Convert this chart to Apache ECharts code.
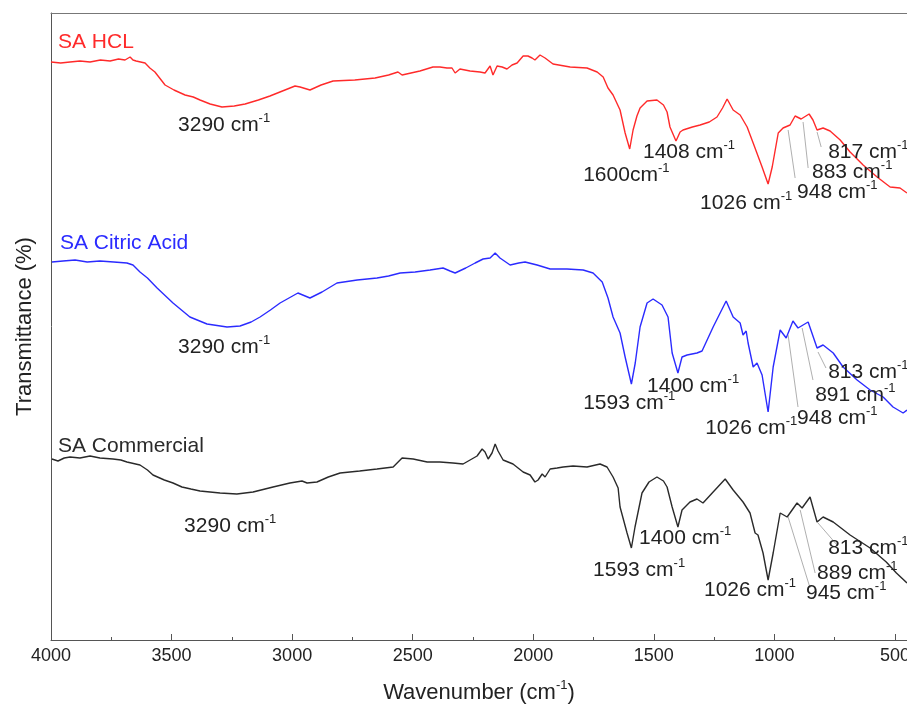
<!DOCTYPE html>
<html>
<head>
<meta charset="utf-8">
<script src="https://cdn.jsdelivr.net/npm/echarts@6/dist/echarts.min.js"></script>
<style>
html, body { margin: 0; padding: 0; background: #fff; }
#chart { width: 907px; height: 704px; }
</style>
</head>
<body>
<div id="chart"></div>
<script>
// wavenumber ticks
const majorTicks = [4000, 3500, 3000, 2500, 2000, 1500, 1000, 500];
const minorTicks = [3750, 3250, 2750, 2250, 1750, 1250, 750];

// spectra: [wavenumber (cm-1), transmittance (offset, a.u.)]
const hclData = [
  [4000, 578], [3960, 577], [3921, 578], [3880, 579], [3838, 578], [3795, 580], [3755, 579], [3720, 581],
  [3693, 580], [3672, 583], [3660, 580], [3647, 579], [3610, 577], [3590, 572], [3569, 568], [3527, 555],
  [3490, 550], [3444, 545], [3410, 543], [3382, 540], [3340, 536], [3291, 533], [3240, 534], [3195, 536],
  [3140, 540], [3092, 544], [3040, 549], [2988, 554], [2967, 553], [2926, 550], [2880, 555], [2830, 559],
  [2740, 560], [2656, 562], [2600, 565], [2561, 568], [2544, 565], [2470, 569], [2416, 573], [2387, 573],
  [2358, 572], [2337, 572], [2324, 567], [2304, 571], [2262, 569], [2221, 568], [2200, 567], [2179, 574],
  [2167, 565], [2150, 574], [2129, 573], [2109, 571], [2088, 575], [2067, 577], [2042, 584], [2022, 584],
  [2005, 582], [1993, 580], [1972, 585], [1951, 582], [1918, 576], [1847, 573], [1777, 572], [1735, 568],
  [1710, 563], [1690, 552], [1669, 545], [1640, 530], [1619, 507],
  [1600, 491], [1586, 510], [1570, 524], [1557, 532], [1528, 539], [1487, 540], [1460, 535], [1445, 528],
  [1433, 513], [1408, 499], [1391, 508], [1379, 510], [1340, 513], [1308, 515], [1270, 518], [1238, 523],
  [1215, 532], [1196, 541], [1171, 530], [1142, 525], [1113, 513], [1088, 497], [1051, 473], [1026, 456],
  [1009, 473], [984, 507], [964, 512], [935, 515], [914, 524], [889, 521], [856, 526], [840, 520],
  [823, 510], [798, 512], [769, 509], [727, 500], [686, 488], [632, 475], [574, 463], [520, 453],
  [479, 452], [450, 447]
];

const citricData = [
  [3996, 378], [3950, 379], [3900, 380], [3850, 378], [3797, 379], [3740, 378], [3685, 377], [3660, 375],
  [3631, 368], [3600, 362], [3560, 352], [3494, 337], [3424, 323], [3353, 316], [3270, 313], [3216, 314],
  [3170, 318], [3133, 323], [3090, 330], [3050, 337], [2976, 347], [2926, 342], [2876, 348], [2814, 357],
  [2730, 360], [2648, 362], [2600, 364], [2552, 367], [2490, 368], [2428, 370], [2374, 372], [2345, 369],
  [2324, 367], [2280, 372], [2241, 377], [2208, 381], [2179, 382], [2158, 387], [2138, 382], [2096, 375],
  [2060, 377], [2034, 378], [1984, 375], [1930, 371], [1860, 371], [1793, 370], [1752, 367], [1714, 358],
  [1690, 342], [1669, 323], [1640, 307], [1619, 283], [1593, 256], [1577, 277], [1557, 313], [1528, 337],
  [1503, 341], [1466, 335], [1441, 323], [1424, 287], [1400, 267], [1383, 283], [1362, 285], [1321, 287],
  [1300, 289], [1254, 313], [1200, 339], [1171, 323], [1142, 317], [1130, 305], [1117, 309], [1109, 297],
  [1088, 273], [1072, 277], [1051, 265], [1026, 228], [1005, 273], [976, 310], [951, 302], [923, 319],
  [902, 312], [860, 318], [823, 292], [798, 295], [756, 287], [715, 273], [657, 260], [603, 250],
  [549, 243], [508, 233], [466, 227], [450, 230]
];

const commercialData = [
  [3996, 181], [3971, 179], [3945, 182], [3921, 183], [3880, 182], [3838, 184], [3797, 182], [3743, 181],
  [3710, 180], [3685, 178], [3631, 175], [3600, 170], [3577, 165], [3530, 160], [3494, 157], [3457, 153],
  [3420, 151], [3382, 149], [3299, 147], [3229, 146], [3162, 148], [3079, 153], [3009, 157], [2959, 159],
  [2938, 157], [2897, 158], [2850, 163], [2801, 167], [2720, 169], [2648, 171], [2581, 173], [2544, 182],
  [2498, 181], [2440, 178], [2387, 178], [2333, 177], [2291, 176], [2262, 180], [2233, 184], [2212, 191],
  [2200, 188], [2187, 181], [2171, 187], [2158, 196], [2146, 189], [2125, 180], [2084, 176], [2042, 168],
  [2013, 165], [1993, 158], [1980, 160], [1963, 166], [1951, 163], [1930, 171], [1901, 172], [1876, 173],
  [1835, 174], [1777, 173], [1723, 176], [1694, 173], [1669, 163], [1648, 152], [1640, 133], [1611, 107], [1593, 92], [1578, 113],
  [1549, 147], [1520, 158], [1487, 163], [1460, 159], [1445, 153], [1424, 133], [1400, 113], [1383, 130],
  [1350, 138], [1321, 141], [1296, 137], [1254, 148], [1204, 161], [1171, 150], [1130, 138], [1101, 127],
  [1080, 107], [1068, 105], [1047, 87], [1026, 60], [1005, 87], [976, 127], [947, 123], [906, 137],
  [885, 132], [852, 143], [823, 118], [798, 123], [756, 118], [686, 105], [603, 92], [536, 78],
  [494, 67], [450, 57]
];

// sample names: [wavenumber, value, text]
const nameHcl = [3971, 598, 'SA HCL'];
const nameCitric = [3963, 397, 'SA Citric Acid'];
const nameCommercial = [3971, 194, 'SA Commercial'];

// peak annotations: [wavenumber, value, text]
const annHcl = [
  [3473, 515, '3290 cm'], [1545, 488, '1408 cm'], [1793, 465, '1600cm'], [1308, 437, '1026 cm'],
  [906, 448, '948 cm'], [844, 468, '883 cm'], [777, 488, '817 cm']
];
const annCitric = [
  [3473, 293, '3290 cm'], [1528, 254, '1400 cm'], [1793, 237, '1593 cm'], [1287, 212, '1026 cm'],
  [906, 222, '948 cm'], [831, 245, '891 cm'], [777, 268, '813 cm']
];
const annCommercial = [
  [3448, 114, '3290 cm'], [1561, 102, '1400 cm'], [1752, 70, '1593 cm'], [1292, 50, '1026 cm'],
  [869, 47, '945 cm'], [823, 67, '889 cm'], [777, 92, '813 cm']
];

// leader lines: [w1, v1, w2, v2]
const leadHcl = [[943, 510, 914, 462], [881, 518, 860, 472], [823, 508, 806, 493]];
const leadCitric = [[943, 305, 902, 233], [885, 312, 840, 260], [819, 288, 786, 272]];
const leadCommercial = [[943, 123, 852, 52], [893, 130, 831, 67], [819, 117, 740, 95]];

const FONT = '"Liberation Sans", Arial, sans-serif';
const TXT = '#222';

function makeSeries(name, data, color, nameLbl, anns, leads) {
  const points = anns.map(a => ({
    coord: [a[0], a[1]], name: a[2],
    label: { formatter: '{n|' + a[2] + '}{s|-1}', color: TXT }
  }));
  points.push({
    coord: [nameLbl[0], nameLbl[1]], name: nameLbl[2],
    label: { formatter: '{t|' + nameLbl[2] + '}', color: color }
  });
  return {
    name: name,
    type: 'line',
    data: data,
    showSymbol: false,
    symbol: 'none',
    smooth: false,
    lineStyle: { color: color, width: 1.4 },
    itemStyle: { color: color },
    z: 3,
    markPoint: {
      symbol: 'circle',
      symbolSize: 0,
      silent: true,
      label: {
        show: true,
        position: 'right',
        distance: 0,
        fontFamily: FONT,
        rich: {
          n: { fontSize: 21, lineHeight: 26, fontFamily: FONT, color: TXT },
          s: { fontSize: 13, lineHeight: 14, fontFamily: FONT, color: TXT, verticalAlign: 'top' },
          t: { fontSize: 21, lineHeight: 26, fontFamily: FONT, color: color }
        }
      },
      data: points
    },
    markLine: {
      silent: true,
      symbol: 'none',
      label: { show: false },
      lineStyle: { color: '#9a9a9a', width: 0.8, type: 'solid' },
      data: leads.map(l => [{ coord: [l[0], l[1]] }, { coord: [l[2], l[3]] }])
    }
  };
}

const chart = echarts.init(document.getElementById('chart'), null, { renderer: 'canvas' });

const xCommon = { type: 'value', min: 450, max: 4000, inverse: true, splitLine: { show: false } };

chart.setOption({
  backgroundColor: '#ffffff',
  animation: false,
  grid: { left: 51, right: 0, top: 13, bottom: 64, outerBoundsMode: 'none' },
  xAxis: [
    Object.assign({}, xCommon, {
      position: 'bottom',
      name: '{a|Wavenumber (cm}{s|-1}{a|)}',
      nameLocation: 'middle',
      nameGap: 39,
      nameTextStyle: {
        rich: {
          a: { fontSize: 22, lineHeight: 28, fontFamily: FONT, color: TXT },
          s: { fontSize: 13, lineHeight: 14, fontFamily: FONT, color: TXT, verticalAlign: 'top' }
        }
      },
      axisLine: { show: true, lineStyle: { color: '#555', width: 1 } },
      axisTick: { show: true, inside: true, length: 6, customValues: majorTicks, lineStyle: { color: '#555' } },
      axisLabel: {
        show: true, customValues: majorTicks, fontSize: 18, fontFamily: FONT, color: TXT, margin: 7,
        formatter: v => String(v)
      }
    }),
    Object.assign({}, xCommon, {
      position: 'bottom',
      axisLine: { show: false },
      axisTick: { show: true, inside: true, length: 3, customValues: minorTicks, lineStyle: { color: '#555' } },
      axisLabel: { show: false }
    }),
    Object.assign({}, xCommon, {
      position: 'top',
      axisLine: { show: true, lineStyle: { color: '#777', width: 1 } },
      axisTick: { show: false },
      axisLabel: { show: false }
    })
  ],
  yAxis: {
    type: 'value',
    min: 0,
    max: 627,
    name: 'Transmittance (%)',
    nameLocation: 'middle',
    nameGap: 15,
    nameTextStyle: { fontSize: 22, fontFamily: FONT, color: TXT },
    axisLine: { show: true, lineStyle: { color: '#555', width: 1 } },
    axisTick: { show: false },
    axisLabel: { show: false },
    splitLine: { show: false }
  },
  series: [
    makeSeries('SA HCL', hclData, '#ff2a2a', nameHcl, annHcl, leadHcl),
    makeSeries('SA Citric Acid', citricData, '#2b2bff', nameCitric, annCitric, leadCitric),
    makeSeries('SA Commercial', commercialData, '#2a2a2a', nameCommercial, annCommercial, leadCommercial)
  ]
});
</script>
</body>
</html>
